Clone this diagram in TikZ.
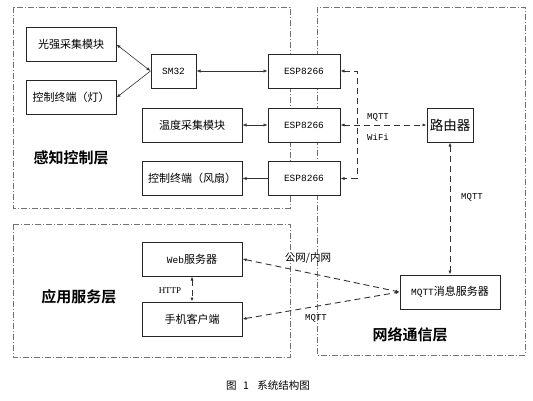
\documentclass[tikz,border=0pt]{standalone}
\usepackage{fontspec}
\usepackage{tikz}
\usetikzlibrary{arrows.meta}
\setmainfont{Liberation Serif}
\newfontfamily\cjk[BoldFont={Noto Sans CJK SC Bold}]{Noto Sans CJK SC}
\newfontfamily\mono{Liberation Mono}

\begin{document}
\begin{tikzpicture}[
    % 坐标单位:1pt 对应参考图的 1 像素,y 轴向下
    x=1pt, y=-1pt,
    % 模块方框样式
    mybox/.style={
        rectangle, % 节点形状:矩形
        line width=1pt, % 边框宽度
        draw=black!85, % 边框颜色
        fill=white, % 白色填充,遮住层次框线
        inner sep=0pt, % 内部留白
        minimum height=34pt, % 方框高度
        font=\cjk\fontsize{11pt}{13pt}\selectfont
        },
    % 层次虚线框样式(点划线)
    mylayer/.style={
        draw=black!55,
        line width=0.5pt,
        dash pattern=on 6pt off 2pt on 1pt off 2pt
        },
    % 实线连线样式
    myline/.style={line width=0.6pt, draw=black!80},
    % 虚线连线样式
    mydash/.style={line width=0.9pt, draw=black!80, dash pattern=on 6pt off 4pt},
    % 标注样式
    mylabel/.style={font=\mono\fontsize{9pt}{11pt}\selectfont, inner sep=0pt},
    % 层名称样式
    mytitle/.style={font=\cjk\bfseries\fontsize{15pt}{17pt}\selectfont, inner sep=0pt},
    >={Latex[length=4pt,width=3.2pt]}
    ]
    \useasboundingbox (0,0) rectangle (533,400);
    % ========== 第一步:三个层次的点划线框 ==========
    \draw [mylayer] (13,7) rectangle (290,208); % 感知控制层
    \draw [mylayer] (13,224) rectangle (290,357); % 应用服务层
    \draw [mylayer] (317,7) rectangle (525,355); % 网络通信层
    % ========== 第二步:批量定义模块节点 ==========
    \foreach \name/\x/\y/\w/\text in {
        light/71/44.5/90/光强采集模块,
        lamp/71/97.5/90/控制终端（灯）,
        temp/192/125/100/温度采集模块,
        fan/192/178.5/100/控制终端（风扇）,
        phone/192/319/100/手机客户端} {
        \node [mybox, minimum width=\w pt] (\name) at (\x,\y) {\text};
    }
    \foreach \name/\y in {esp1/71, esp2/125, esp3/178.5} {
        \node [mybox, minimum width=72pt, font=\mono\fontsize{9.5pt}{11pt}\selectfont] (\name) at (304,\y) {ESP8266};
    }
    \node [mybox, minimum width=45pt, font=\mono\fontsize{9.5pt}{11pt}\selectfont] (stm) at (173.5,71) {SM32};
    \node [mybox, minimum width=46pt, font=\cjk\fontsize{13.5pt}{15pt}\selectfont] (router) at (450,125) {路由器};
    \node [mybox, minimum width=100pt] (web) at (192,259) {{\mono\fontsize{9.5pt}{11pt}\selectfont Web}服务器};
    \node [mybox, minimum width=100pt] (mqtt) at (450,292) {{\mono\fontsize{9.5pt}{11pt}\selectfont MQTT}消息服务器};
    % ========== 第三步:实线连线 ==========
    \draw [myline, <->] (light.east) -- (stm.west);
    \draw [myline, ->] (stm.west) -- (lamp.east);
    \draw [myline, <->] (stm) -- (esp1);
    \draw [myline, <->] (temp) -- (esp2);
    \draw [myline, ->] (esp3) -- (fan);
    % ========== 第四步:虚线连线 ==========
    \coordinate (bt) at (357,71);
    \coordinate (bb) at (357,178.5);
    \draw [mydash, <->] (esp1.east) -- (bt) -- (bb) -- (esp3.east);
    \draw [mydash, <->] (esp2.east) -- (router.west);
    \draw [mydash, <->] (router.south) -- (mqtt.north);
    \draw [mydash, <->] (web.east) -- (mqtt.west);
    \draw [mydash, <->] (phone.east) -- (mqtt.west);
    \draw [mydash, <->] (web.south) -- (phone.north);
    % ========== 第五步:连线标注与层名称 ==========
    \node [mylabel] (l1) at (378,117) {MQTT};
    \node [mylabel] (l2) at (378,137) {WiFi};
    \node [mylabel] (l3) at (472,197) {MQTT};
    \node [mylabel] (l4) at (316,318) {MQTT};
    \node [mylabel, font=\cjk\fontsize{10.5pt}{12pt}\selectfont] (l5) at (308,258) {公网/内网};
    \node [mylabel, font=\fontsize{9pt}{11pt}\selectfont] (l6) at (170,291) {HTTP};
    \node [mytitle] (t1) at (71,158) {感知控制层};
    \node [mytitle] (t2) at (79,297) {应用服务层};
    \node [mytitle] (t3) at (410,335) {网络通信层};
    \node [font=\cjk\fontsize{10.5pt}{12pt}\selectfont, inner sep=0pt] (cap) at (268,385) {图\hspace{0.6em}1\hspace{0.8em}系统结构图};
\end{tikzpicture}
\end{document}
